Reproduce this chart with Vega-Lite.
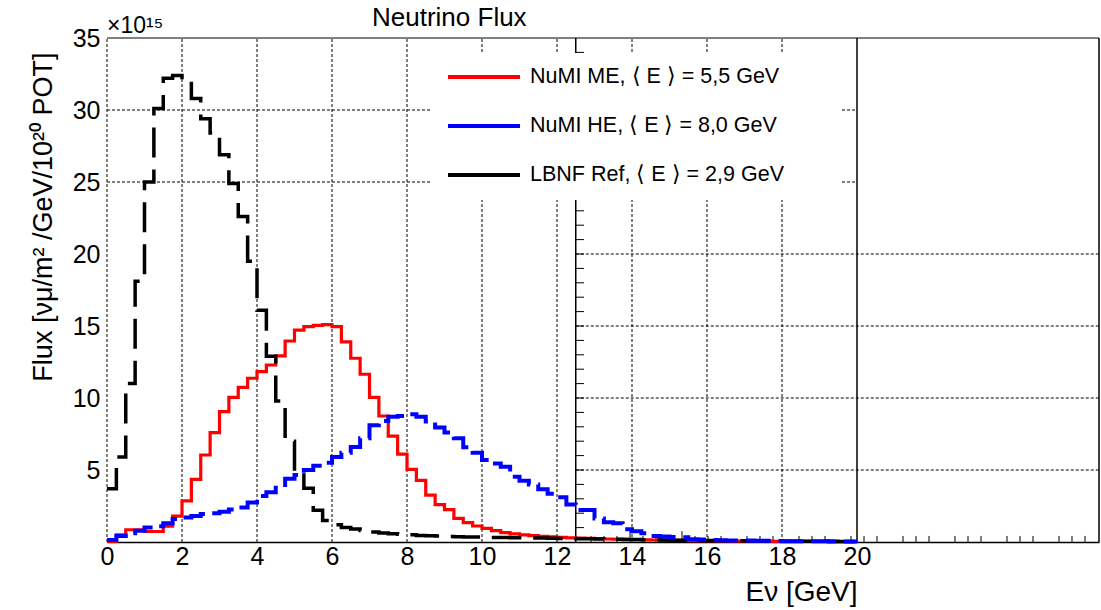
{
  "$schema": "https://vega.github.io/schema/vega-lite/v6.json",
  "width": 992,
  "height": 504,
  "autosize": "none",
  "padding": {"left": 107, "top": 38, "right": 2, "bottom": 68},
  "background": "white",
  "config": {
    "view": {"stroke": null},
    "font": "Liberation Sans",
    "axis": {"labelFont": "Liberation Sans", "titleFont": "Liberation Sans", "labelColor": "black", "titleColor": "black"}
  },
  "title": {
    "text": "Neutrino Flux",
    "anchor": "start",
    "frame": "group",
    "dx": 265,
    "offset": -37,
    "baseline": "alphabetic",
    "fontSize": 26,
    "fontWeight": "normal",
    "font": "Liberation Sans",
    "color": "black"
  },
  "data": {
    "values": [
      {"e": 0.0, "me": 0.05, "he": 0.14, "lbnf": 3.7},
      {"e": 0.25, "me": 0.5, "he": 0.42, "lbnf": 5.9},
      {"e": 0.5, "me": 0.85, "he": 0.6, "lbnf": 11.0},
      {"e": 0.75, "me": 0.85, "he": 0.78, "lbnf": 18.1},
      {"e": 1.0, "me": 0.73, "he": 1.0, "lbnf": 25.0},
      {"e": 1.25, "me": 0.73, "he": 1.1, "lbnf": 30.1},
      {"e": 1.5, "me": 1.1, "he": 1.3, "lbnf": 32.2},
      {"e": 1.75, "me": 1.8, "he": 1.6, "lbnf": 32.4},
      {"e": 2.0, "me": 2.85, "he": 1.7, "lbnf": 32.0},
      {"e": 2.25, "me": 4.35, "he": 1.8, "lbnf": 30.8},
      {"e": 2.5, "me": 6.04, "he": 1.95, "lbnf": 29.4},
      {"e": 2.75, "me": 7.6, "he": 2.0, "lbnf": 28.4},
      {"e": 3.0, "me": 9.05, "he": 2.1, "lbnf": 26.9},
      {"e": 3.25, "me": 10.05, "he": 2.25, "lbnf": 24.9},
      {"e": 3.5, "me": 10.74, "he": 2.4, "lbnf": 22.6},
      {"e": 3.75, "me": 11.37, "he": 2.75, "lbnf": 19.5},
      {"e": 4.0, "me": 11.83, "he": 3.2, "lbnf": 16.1},
      {"e": 4.25, "me": 12.29, "he": 3.45, "lbnf": 12.9},
      {"e": 4.5, "me": 12.92, "he": 3.95, "lbnf": 9.8},
      {"e": 4.75, "me": 13.96, "he": 4.4, "lbnf": 7.0},
      {"e": 5.0, "me": 14.72, "he": 4.65, "lbnf": 4.9},
      {"e": 5.25, "me": 14.95, "he": 5.0, "lbnf": 3.73},
      {"e": 5.5, "me": 15.05, "he": 5.3, "lbnf": 2.2},
      {"e": 5.75, "me": 15.1, "he": 5.5, "lbnf": 1.5},
      {"e": 6.0, "me": 14.95, "he": 5.9, "lbnf": 1.2},
      {"e": 6.25, "me": 13.9, "he": 6.2, "lbnf": 1.0},
      {"e": 6.5, "me": 12.76, "he": 6.6, "lbnf": 0.9},
      {"e": 6.75, "me": 11.65, "he": 7.2, "lbnf": 0.8},
      {"e": 7.0, "me": 10.05, "he": 8.1, "lbnf": 0.7},
      {"e": 7.25, "me": 8.75, "he": 8.4, "lbnf": 0.62},
      {"e": 7.5, "me": 7.35, "he": 8.7, "lbnf": 0.57},
      {"e": 7.75, "me": 6.1, "he": 8.75, "lbnf": 0.53},
      {"e": 8.0, "me": 5.05, "he": 8.87, "lbnf": 0.5},
      {"e": 8.25, "me": 4.28, "he": 8.7, "lbnf": 0.46},
      {"e": 8.5, "me": 3.26, "he": 8.36, "lbnf": 0.43},
      {"e": 8.75, "me": 2.6, "he": 7.96, "lbnf": 0.41},
      {"e": 9.0, "me": 2.25, "he": 7.6, "lbnf": 0.39},
      {"e": 9.25, "me": 1.64, "he": 7.2, "lbnf": 0.37},
      {"e": 9.5, "me": 1.34, "he": 6.58, "lbnf": 0.35},
      {"e": 9.75, "me": 1.11, "he": 6.2, "lbnf": 0.34},
      {"e": 10.0, "me": 0.95, "he": 5.7, "lbnf": 0.33},
      {"e": 10.25, "me": 0.79, "he": 5.45, "lbnf": 0.32},
      {"e": 10.5, "me": 0.65, "he": 5.23, "lbnf": 0.31},
      {"e": 10.75, "me": 0.56, "he": 4.53, "lbnf": 0.3},
      {"e": 11.0, "me": 0.49, "he": 4.25, "lbnf": 0.29},
      {"e": 11.25, "me": 0.44, "he": 4.0, "lbnf": 0.28},
      {"e": 11.5, "me": 0.39, "he": 3.66, "lbnf": 0.27},
      {"e": 11.75, "me": 0.36, "he": 3.35, "lbnf": 0.26},
      {"e": 12.0, "me": 0.32, "he": 3.1, "lbnf": 0.25},
      {"e": 12.25, "me": 0.29, "he": 2.6, "lbnf": 0.24},
      {"e": 12.5, "me": 0.27, "he": 2.22, "lbnf": 0.23},
      {"e": 12.75, "me": 0.25, "he": 2.22, "lbnf": 0.22},
      {"e": 13.0, "me": 0.23, "he": 1.64, "lbnf": 0.21},
      {"e": 13.25, "me": 0.21, "he": 1.38, "lbnf": 0.2},
      {"e": 13.5, "me": 0.19, "he": 1.3, "lbnf": 0.19},
      {"e": 13.75, "me": 0.18, "he": 0.88, "lbnf": 0.18},
      {"e": 14.0, "me": 0.16, "he": 0.75, "lbnf": 0.17},
      {"e": 14.25, "me": 0.15, "he": 0.6, "lbnf": 0.16},
      {"e": 14.5, "me": 0.14, "he": 0.42, "lbnf": 0.15},
      {"e": 14.75, "me": 0.13, "he": 0.38, "lbnf": 0.14},
      {"e": 15.0, "me": 0.12, "he": 0.35, "lbnf": 0.13},
      {"e": 15.25, "me": 0.11, "he": 0.33, "lbnf": 0.13},
      {"e": 15.5, "me": 0.1, "he": 0.19, "lbnf": 0.12},
      {"e": 15.75, "me": 0.1, "he": 0.17, "lbnf": 0.11},
      {"e": 16.0, "me": 0.09, "he": 0.14, "lbnf": 0.1},
      {"e": 16.25, "me": 0.08, "he": 0.12, "lbnf": 0.1},
      {"e": 16.5, "me": 0.08, "he": 0.11, "lbnf": 0.09},
      {"e": 16.75, "me": 0.07, "he": 0.1, "lbnf": 0.09},
      {"e": 17.0, "me": 0.07, "he": 0.1, "lbnf": 0.08},
      {"e": 17.25, "me": 0.06, "he": 0.09, "lbnf": 0.08},
      {"e": 17.5, "me": 0.06, "he": 0.08, "lbnf": 0.07},
      {"e": 17.75, "me": 0.05, "he": 0.07, "lbnf": 0.07},
      {"e": 18.0, "me": 0.05, "he": 0.06, "lbnf": 0.06},
      {"e": 18.25, "me": 0.05, "he": 0.06, "lbnf": 0.06},
      {"e": 18.5, "me": 0.04, "he": 0.05, "lbnf": 0.06},
      {"e": 18.75, "me": 0.04, "he": 0.05, "lbnf": 0.05},
      {"e": 19.0, "me": 0.04, "he": 0.05, "lbnf": 0.05},
      {"e": 19.25, "me": 0.03, "he": 0.04, "lbnf": 0.05},
      {"e": 19.5, "me": 0.03, "he": 0.04, "lbnf": 0.04},
      {"e": 19.75, "me": 0.03, "he": 0.04, "lbnf": 0.04},
      {"e": 20.0, "me": 0.03, "he": 0.04, "lbnf": 0.04}
    ]
  },
  "layer": [
    {
      "data": {"values": [{"g": 0}, {"g": 2}, {"g": 4}, {"g": 6}, {"g": 8}, {"g": 10}, {"g": 12}, {"g": 14}, {"g": 16}, {"g": 18}]},
      "mark": {"type": "rule", "color": "black", "strokeWidth": 1, "strokeDash": [3, 2]},
      "encoding": {
        "x": {
          "field": "g", "type": "quantitative",
          "scale": {"domain": [0, 26.453], "nice": false, "zero": false},
          "axis": {
            "values": [0, 2, 4, 6, 8, 10, 12, 14, 16, 18, 20],
            "format": "d",
            "labelFontSize": 25,
            "labelPadding": 2,
            "labelFlush": false,
            "labelOverlap": false,
            "ticks": false,
            "grid": false,
            "domain": true,
            "domainColor": "black",
            "domainWidth": 1.5,
            "title": "Eν [GeV]",
            "titleFontSize": 28,
            "titleFontWeight": "normal",
            "titleX": 750,
            "titleY": 58,
            "titleAlign": "right",
            "titleBaseline": "alphabetic"
          }
        },
        "y": {
          "datum": 0, "type": "quantitative",
          "scale": {"domain": [0, 35], "nice": false, "zero": false},
          "axis": {
            "values": [5, 10, 15, 20, 25, 30, 35],
            "format": "d",
            "labelFontSize": 25,
            "labelPadding": 7,
            "labelFlush": false,
            "labelOverlap": false,
            "ticks": false,
            "grid": false,
            "domain": false,
            "title": "Flux [νμ/m² /GeV/10²⁰ POT]",
            "titleFontSize": 27,
            "titleFontWeight": "normal",
            "titleAngle": 270,
            "titleAlign": "right",
            "titleBaseline": "middle",
            "titleX": -64,
            "titleY": 14
          }
        },
        "y2": {"datum": 35}
      }
    },
    {
      "data": {"values": [
        {"hy": 30, "a": 0, "b": 20},
        {"hy": 25, "a": 0, "b": 20},
        {"hy": 20, "a": 12.5, "b": 26.453},
        {"hy": 15, "a": 12.5, "b": 26.453},
        {"hy": 10, "a": 12.5, "b": 26.453},
        {"hy": 5, "a": 12.5, "b": 26.453}
      ]},
      "mark": {"type": "rule", "color": "black", "strokeWidth": 1, "strokeDash": [3, 2]},
      "encoding": {
        "y": {"field": "hy", "type": "quantitative"},
        "x": {"field": "a", "type": "quantitative"},
        "x2": {"field": "b"}
      }
    },
    {
      "data": {"values": [{"fx": 12.5}, {"fx": 20}, {"fx": 26.453}]},
      "mark": {"type": "rule", "color": "black", "strokeWidth": 1.5},
      "encoding": {
        "x": {"field": "fx", "type": "quantitative"},
        "y": {"datum": 0, "type": "quantitative"},
        "y2": {"datum": 35}
      }
    },
    {
      "data": {"values": [{}]},
      "mark": {"type": "rule", "color": "black", "strokeWidth": 1},
      "encoding": {
        "x": {"datum": 0, "type": "quantitative"},
        "x2": {"datum": 26.453},
        "y": {"datum": 35, "type": "quantitative"}
      }
    },
    {
      "data": {"values": [
        {"ty": 1}, {"ty": 2}, {"ty": 3}, {"ty": 4}, {"ty": 5}, {"ty": 6}, {"ty": 7}, {"ty": 8}, {"ty": 9}, {"ty": 10},
        {"ty": 11}, {"ty": 12}, {"ty": 13}, {"ty": 14}, {"ty": 15}, {"ty": 16}, {"ty": 17}, {"ty": 18}, {"ty": 19}, {"ty": 20},
        {"ty": 21}, {"ty": 22}, {"ty": 23}, {"ty": 34}
      ]},
      "mark": {"type": "rule", "color": "black", "strokeWidth": 1},
      "encoding": {
        "y": {"field": "ty", "type": "quantitative"},
        "x": {"datum": 12.5, "type": "quantitative"},
        "x2": {"datum": 12.72}
      }
    },
    {
      "data": {"values": [
        {"tx": 12.907}, {"tx": 13.253}, {"tx": 13.6}, {"tx": 14.293}, {"tx": 14.64}, {"tx": 14.987},
        {"tx": 15.68}, {"tx": 16.027}, {"tx": 16.373}, {"tx": 17.067}, {"tx": 17.413}, {"tx": 17.76},
        {"tx": 18.453}, {"tx": 18.8}, {"tx": 19.147}, {"tx": 19.84}, {"tx": 20.187}, {"tx": 20.533},
        {"tx": 21.227}, {"tx": 21.573}, {"tx": 21.92}, {"tx": 22.613}, {"tx": 22.96}, {"tx": 23.307},
        {"tx": 24.0}, {"tx": 24.347}, {"tx": 24.693}, {"tx": 25.387}, {"tx": 25.733}, {"tx": 26.08}
      ]},
      "mark": {"type": "rule", "color": "black", "strokeWidth": 1},
      "encoding": {
        "x": {"field": "tx", "type": "quantitative"},
        "y": {"datum": 0, "type": "quantitative"},
        "y2": {"datum": 0.42}
      }
    },
    {
      "data": {"values": [{"tx": 13.947}, {"tx": 15.333}]},
      "mark": {"type": "rule", "color": "black", "strokeWidth": 1},
      "encoding": {
        "x": {"field": "tx", "type": "quantitative"},
        "y": {"datum": 0, "type": "quantitative"},
        "y2": {"datum": 0.76}
      }
    },
    {
      "data": {"values": [{}]},
      "mark": {"type": "rect", "fill": "white", "stroke": null},
      "encoding": {
        "x": {"datum": 8.613, "type": "quantitative"},
        "x2": {"datum": 19.6},
        "y": {"datum": 23.75, "type": "quantitative"},
        "y2": {"datum": 33.96}
      }
    },
    {
      "transform": [
        {"fold": ["me", "he", "lbnf"], "as": ["series", "flux"]},
        {"filter": "datum.series === 'me'"}
      ],
      "mark": {"type": "line", "interpolate": "step-after", "strokeWidth": 3.2, "strokeJoin": "miter", "strokeCap": "butt"},
      "encoding": {
        "x": {"field": "e", "type": "quantitative"},
        "y": {"field": "flux", "type": "quantitative"},
        "color": {
          "field": "series", "type": "nominal",
          "scale": {"domain": ["me", "he", "lbnf"], "range": ["#ff0000", "#0000ff", "#000000"]},
          "legend": {
            "orient": "none", "legendX": 339, "legendY": 1, "title": null,
            "symbolType": "stroke", "symbolSize": 5184, "symbolStrokeWidth": 4, "symbolDash": [1, 0],
            "labelFontSize": 21.5, "labelFont": "Liberation Sans", "labelColor": "black", "labelOffset": 8,
            "labelLimit": 500, "rowPadding": -28, "padding": 0,
            "labelExpr": "datum.label === 'me' ? 'NuMI ME, ⟨ E ⟩ = 5,5 GeV' : datum.label === 'he' ? 'NuMI HE, ⟨ E ⟩ = 8,0 GeV' : 'LBNF Ref, ⟨ E ⟩ = 2,9 GeV'"
          }
        }
      }
    },
    {
      "transform": [
        {"fold": ["me", "he", "lbnf"], "as": ["series", "flux"]},
        {"filter": "datum.series === 'lbnf'"}
      ],
      "mark": {"type": "line", "interpolate": "step-after", "strokeWidth": 3.5, "strokeDash": [30, 12], "strokeJoin": "miter", "strokeCap": "butt"},
      "encoding": {
        "x": {"field": "e", "type": "quantitative"},
        "y": {"field": "flux", "type": "quantitative"},
        "color": {"field": "series", "type": "nominal"}
      }
    },
    {
      "transform": [
        {"fold": ["me", "he", "lbnf"], "as": ["series", "flux"]},
        {"filter": "datum.series === 'he'"}
      ],
      "mark": {"type": "line", "interpolate": "step-after", "strokeWidth": 4, "strokeDash": [25, 8], "strokeJoin": "miter", "strokeCap": "butt"},
      "encoding": {
        "x": {"field": "e", "type": "quantitative"},
        "y": {"field": "flux", "type": "quantitative"},
        "color": {"field": "series", "type": "nominal"}
      }
    },
    {
      "data": {"values": [{}]},
      "mark": {"type": "text", "text": "×10¹⁵", "align": "left", "baseline": "alphabetic", "fontSize": 23, "font": "Liberation Sans", "color": "black", "dy": -5},
      "encoding": {
        "x": {"datum": 0, "type": "quantitative"},
        "y": {"datum": 35, "type": "quantitative"}
      }
    }
  ]
}
